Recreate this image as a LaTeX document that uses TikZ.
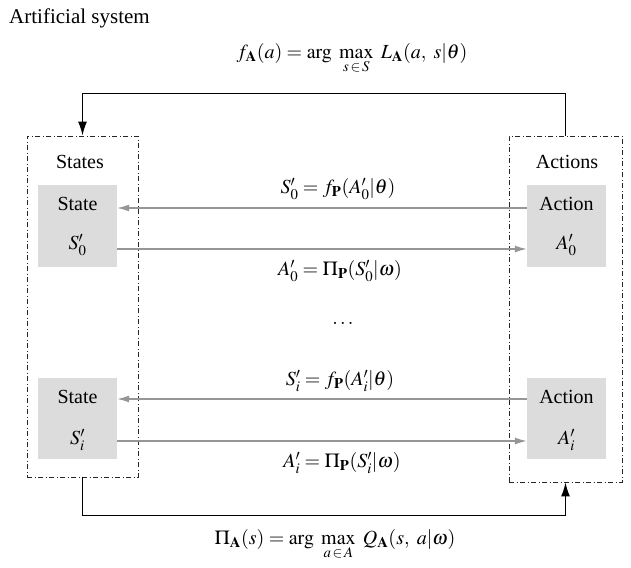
\documentclass[tikz,border=0pt]{standalone}
\usepackage{mathptmx}
\usepackage[no-math]{fontspec}
\setmainfont{Liberation Serif}
\usetikzlibrary{arrows.meta}
\definecolor{boxgray}{RGB}{220,220,220}
\definecolor{linegray}{RGB}{150,150,150}
\tikzset{
  txt/.style={inner sep=0pt, font=\fontsize{20}{24}\selectfont},
  dashbox/.style={draw=black!85, line width=0.9pt, dash pattern=on 5pt off 2.5pt on 1pt off 2.5pt, inner sep=0pt},
  graybox/.style={fill=boxgray, inner sep=0pt},
  glink/.style={draw=linegray, line width=1.3pt, -{Latex[length=12pt,width=7pt]}},
  fb/.style={draw=black, line width=1.4pt, -{Latex[length=14pt,width=9pt]}}
}
\begin{document}
\begin{tikzpicture}[x=1pt,y=-1pt]
\useasboundingbox (0,0) rectangle (631,567);
\node[txt, anchor=west, font=\fontsize{21}{25}\selectfont] (title) at (9,18) {Artificial system};

% containers
\node[dashbox, minimum width=111pt, minimum height=341pt] (L) at (82.5,306.5) {};
\node[dashbox, minimum width=113pt, minimum height=346pt] (R) at (565.5,309) {};
\node[txt] (states) at (80,162) {States};
\node[txt] (actions) at (567,162) {Actions};

% gray boxes
\node[graybox, minimum width=79pt, minimum height=82pt] (S0) at (77.5,226) {};
\node[graybox, minimum width=79pt, minimum height=82pt] (A0) at (566.5,226) {};
\node[graybox, minimum width=79pt, minimum height=81pt] (Si) at (77.5,418.5) {};
\node[graybox, minimum width=79pt, minimum height=81pt] (Ai) at (566.5,418.5) {};

\node[txt] (s0a) at (77.5,204) {State};
\node[txt] (s0b) at (77.5,245) {$S'_{0}$};
\node[txt] (a0a) at (566.5,204) {Action};
\node[txt] (a0b) at (566.5,245) {$A'_{0}$};
\node[txt] (sia) at (77.5,397) {State};
\node[txt] (sib) at (77.5,440) {$S'_{i}$};
\node[txt] (aia) at (566.5,397) {Action};
\node[txt] (aib) at (566.5,440) {$A'_{i}$};

% gray connectors
\draw[glink] ([yshift=18pt]A0.west) -- ([yshift=18pt]S0.east);
\draw[glink] ([yshift=-23pt]S0.east) -- ([yshift=-23pt]A0.west);
\draw[glink] ([yshift=19.5pt]Ai.west) -- ([yshift=19.5pt]Si.east);
\draw[glink] ([yshift=-22.5pt]Si.east) -- ([yshift=-22.5pt]Ai.west);

% labels
\node[txt] (l1) at (338,189) {$S'_{0}=f_{\mathbf{P}}(A'_{0}|\theta)$};
\node[txt] (l2) at (340,271) {$A'_{0}=\Pi_{\mathbf{P}}(S'_{0}|\omega)$};
\node[txt] (dots) at (343,323) {$\ldots$};
\node[txt] (l3) at (340,381) {$S'_{i}=f_{\mathbf{P}}(A'_{i}|\theta)$};
\node[txt] (l4) at (342,463) {$A'_{i}=\Pi_{\mathbf{P}}(S'_{i}|\omega)$};

% feedback loops
\draw[fb] (R.north) -- ++(0,-42) coordinate (tr) -| (L.north);
\draw[fb] (L.south) -- ++(0,38) coordinate (br) -| (R.south);

\node[txt, anchor=north] (ftop) at (352,43) {$\displaystyle f_{\mathbf{A}}(a)=\arg\ \max_{s\,\in\,S}\ L_{\mathbf{A}}(a,\ s|\theta)$};
\node[txt, anchor=north] (fbot) at (335,529) {$\displaystyle \Pi_{\mathbf{A}}(s)=\arg\ \max_{a\,\in\,A}\ Q_{\mathbf{A}}(s,\ a|\omega)$};
\end{tikzpicture}
\end{document}
